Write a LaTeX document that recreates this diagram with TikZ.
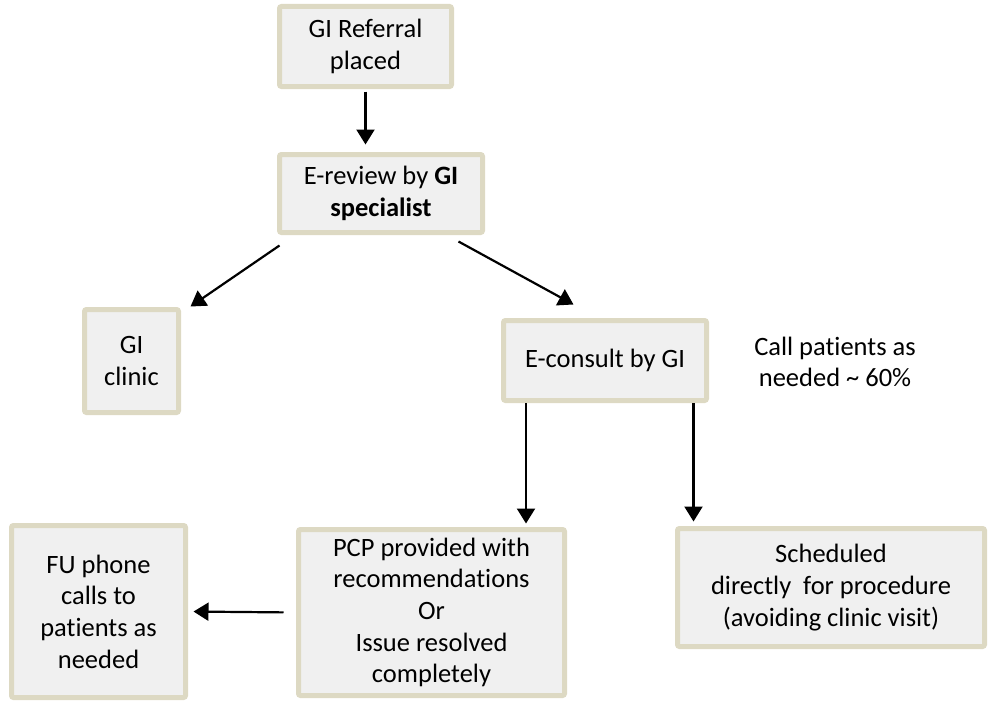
\documentclass[tikz,border=0pt]{standalone}
\usepackage{fontspec}
\setmainfont{Carlito}[Ligatures=NoCommon]
\usetikzlibrary{arrows.meta}
\definecolor{boxline}{RGB}{221,217,195}
\definecolor{boxfill}{RGB}{240,240,240}
\begin{document}
\begin{tikzpicture}[
        x=1pt, y=-1pt,
        every node/.style={font=\fontsize{26.5}{31.7}\selectfont, align=center, inner sep=0pt},
        box/.style={draw=boxline, fill=boxfill, line width=5pt, rounded corners=2pt},
        flow/.style={-{Triangle[length=15pt, width=18pt]}, line width=2.2pt, black}
    ]
        \useasboundingbox (0,0) rectangle (990,701);

        % Các ô của sơ đồ
        \node[box, minimum width=172pt, minimum height=80pt] (ref) at (365.5,46.5) {GI Referral\\placed};
        \node[box, minimum width=203pt, minimum height=78pt] (review) at (381,193.5) {E-review by \textbf{GI}\\\textbf{specialist}};
        \node[box, minimum width=94pt, minimum height=103pt] (clinic) at (131.5,361) {GI\\clinic};
        \node[box, minimum width=203pt, minimum height=80pt] (econs) at (605,360.5) {E-consult by GI};
        \node[box, minimum width=174pt, minimum height=172pt] (fu) at (98.5,611.5) {FU phone\\calls to\\patients as\\needed};
        \node[box, minimum width=266pt, minimum height=166pt] (pcp) at (431.5,612.5) {PCP provided with\\recommendations\\Or\\Issue resolved\\completely};
        \node[box, minimum width=307pt, minimum height=118pt] (sched) at (831,587.5) {Scheduled\\directly\ \ for procedure\\(avoiding clinic visit)};

        % Ghi chú bên cạnh
        \node (call) at (835,362) {Call patients as\\needed \textasciitilde{} 60\%};

        % Các mũi tên
        \draw[flow, shorten <=2.5pt, shorten >=7.5pt] (ref.south) -- (ref.south |- review.north);
        \draw[flow] ([shift={(2.5,10.5)}]review.south west) -- ([shift={(9.5,-0.5)}]clinic.north east);
        \draw[flow] ([shift={(-26.5,6.5)}]review.south east) -- ([shift={(72.5,-13.5)}]econs.north west);
        \draw[flow, shorten >=3.5pt] ([xshift=-79pt]econs.south) -- ([xshift=-79pt]econs.south |- pcp.north);
        \draw[flow, shorten >=4.5pt] ([xshift=-15.5pt]econs.south east) -- ([xshift=-15.5pt]econs.south east |- sched.north);
        \draw[flow, shorten <=12.5pt, shorten >=5.5pt] (pcp.west) -- (fu.east);
    \end{tikzpicture}
\end{document}
